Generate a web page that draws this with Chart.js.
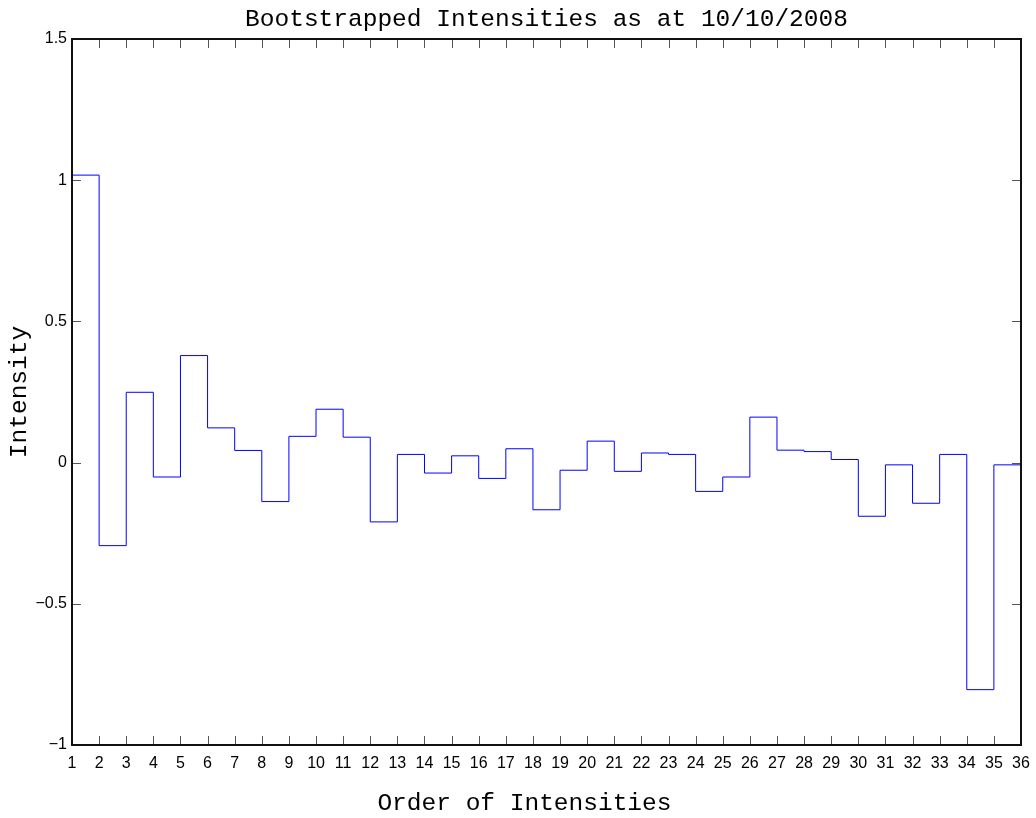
<!DOCTYPE html>
<html>
<head>
<meta charset="utf-8">
<script src="https://cdn.jsdelivr.net/npm/chart.js@4"></script>
<style>
  html, body { margin: 0; padding: 0; background: #fff; }
  #wrap { width: 1036px; height: 818px; }
</style>
</head>
<body>
<div id="wrap"><canvas id="stairs" width="1036" height="818"></canvas></div>
<script>
// order of the intensities (x positions)
const orders = [1, 2, 3, 4, 5, 6, 7, 8, 9, 10, 11, 12, 13, 14, 15, 16, 17, 18,
  19, 20, 21, 22, 23, 24, 25, 26, 27, 28, 29, 30, 31, 32, 33, 34, 35, 36];

// bootstrapped intensity values
const intensities = [1.018, -0.294, 0.249, -0.051, 0.379, 0.123, 0.043, -0.138, 0.093,
  0.189, 0.090, -0.210, 0.029, -0.037, 0.024, -0.056, 0.049, -0.167, -0.027, 0.076,
  -0.031, 0.034, 0.029, -0.102, -0.051, 0.161, 0.044, 0.039, 0.011, -0.190, -0.008,
  -0.144, 0.029, -0.804, -0.008, 0.042];

const yTickValues = [-1, -0.5, 0, 0.5, 1, 1.5];

const chartTitle = "Bootstrapped Intensities as at 10/10/2008";
const xTitle = "Order of Intensities   "; // trailing blanks like the original label, pulls it a bit left
const yTitle = "Intensity";

const monoFont = "'Liberation Mono', 'DejaVu Sans Mono', monospace";
const sansFont = "'Liberation Sans', Arial, sans-serif";

// box round the plot with inward tick marks on all four sides (matlab look)
const boxTicks = {
  id: "boxTicks",
  afterDatasetsDraw(chart) {
    const { ctx, chartArea: a, scales } = chart;
    const x = scales.x, y = scales.y;
    ctx.save();
    ctx.strokeStyle = "#555";
    ctx.lineWidth = 1;
    ctx.beginPath();
    x.ticks.forEach((t) => {
      const px = Math.round(x.getPixelForValue(t.value)) + 0.5;
      ctx.moveTo(px, a.bottom); ctx.lineTo(px, a.bottom - 9);
      ctx.moveTo(px, a.top); ctx.lineTo(px, a.top + 9);
    });
    y.ticks.forEach((t) => {
      const py = Math.round(y.getPixelForValue(t.value)) + 0.5;
      ctx.moveTo(a.left, py); ctx.lineTo(a.left + 9, py);
      ctx.moveTo(a.right, py); ctx.lineTo(a.right - 9, py);
    });
    ctx.stroke();
    ctx.strokeStyle = "#111";
    ctx.lineWidth = 2;
    ctx.strokeRect(Math.round(a.left), Math.round(a.top),
      Math.round(a.right - a.left), Math.round(a.bottom - a.top));
    ctx.restore();
  }
};

new Chart(document.getElementById("stairs"), {
  type: "line",
  data: {
    datasets: [
      {
        label: "Intensity",
        data: orders.map((o, i) => ({ x: o, y: intensities[i] })),
        stepped: "before",
        borderColor: "#0000ff",
        borderWidth: 1,
        pointRadius: 0,
        fill: false,
        tension: 0,
      },
    ],
  },
  options: {
    responsive: false,
    animation: false,
    devicePixelRatio: 1,
    layout: { padding: { left: 0, right: 15, top: 0, bottom: 0 } },
    plugins: {
      legend: { display: false },
      tooltip: { enabled: false },
      title: {
        display: true,
        text: chartTitle,
        fullSize: false,
        color: "#000",
        font: { family: monoFont, size: 24.5, weight: "normal" },
        padding: { top: 5, bottom: 4.6 },
      },
    },
    scales: {
      x: {
        type: "linear",
        min: 1,
        max: 36,
        afterFit: (scale) => {
          scale.height = 73;
          scale.paddingLeft = 0;
          scale.paddingRight = 0;
        },
        afterBuildTicks: (scale) => { scale.ticks = orders.map((v) => ({ value: v })); },
        grid: { display: false, drawTicks: false },
        border: { display: false },
        ticks: {
          color: "#000",
          padding: 9,
          maxRotation: 0,
          autoSkip: false,
          font: { family: sansFont, size: 16 },
          callback: (v) => String(v),
        },
        title: {
          display: true,
          text: xTitle,
          color: "#000",
          font: { family: monoFont, size: 24.5, weight: "normal" },
          padding: { top: 0, bottom: 0 },
        },
      },
      y: {
        type: "linear",
        min: -1,
        max: 1.5,
        afterFit: (scale) => { scale.width = 72; },
        afterBuildTicks: (scale) => { scale.ticks = yTickValues.map((v) => ({ value: v })); },
        grid: { display: false, drawTicks: false },
        border: { display: false },
        ticks: {
          color: "#000",
          padding: 5,
          font: { family: sansFont, size: 16 },
          callback: (v) => (v < 0 ? "\u2212" + Math.abs(v) : String(v)),
        },
        title: {
          display: true,
          text: yTitle,
          color: "#000",
          font: { family: monoFont, size: 24.5, weight: "normal" },
          padding: { top: 5, bottom: 0 },
        },
      },
    },
  },
  plugins: [boxTicks],
});
</script>
</body>
</html>
